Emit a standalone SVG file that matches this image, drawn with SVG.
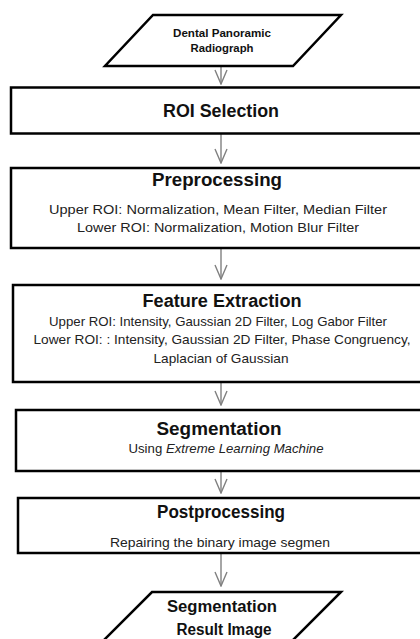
<svg xmlns="http://www.w3.org/2000/svg" width="420" height="639" viewBox="0 0 420 639">
<style>
.box{fill:#fff;stroke:#000;stroke-width:2.5}
.t{font-family:"Liberation Sans",Arial,sans-serif;fill:#111;text-anchor:middle}
.b{font-weight:bold}
.s{font-size:13.5px;fill:#222}
.c{stroke:#808080;stroke-width:1.4;fill:none}
</style>
<defs>
<marker id="ah" markerUnits="userSpaceOnUse" markerWidth="16" markerHeight="14" viewBox="0 0 16 14" refX="15" refY="7" orient="auto">
<path d="M1,1 L15,7 L1,13" fill="none" stroke="#808080" stroke-width="1.4"/>
</marker>
</defs>
<rect width="420" height="639" fill="#fff"/>
<g id="connectors">
<line class="c" x1="221" y1="66" x2="221" y2="84" marker-end="url(#ah)"/>
<line class="c" x1="221" y1="134" x2="221" y2="163" marker-end="url(#ah)"/>
<line class="c" x1="221" y1="249" x2="221" y2="279" marker-end="url(#ah)"/>
<line class="c" x1="221" y1="382" x2="221" y2="405" marker-end="url(#ah)"/>
<line class="c" x1="221" y1="472" x2="221" y2="493" marker-end="url(#ah)"/>
<line class="c" x1="221" y1="553" x2="221" y2="586" marker-end="url(#ah)"/>
</g>
<g id="input">
<polygon class="box" points="153,15 341,15 293,66 105,66"/>
<text class="t b" x="222" y="37" font-size="11" textLength="98" lengthAdjust="spacingAndGlyphs">Dental Panoramic</text>
<text class="t b" x="222" y="52" font-size="11" textLength="63" lengthAdjust="spacingAndGlyphs">Radiograph</text>
</g>
<g id="roi">
<rect class="box" x="11" y="87.5" width="420" height="46"/>
<text class="t b" x="221" y="117" font-size="19" textLength="116" lengthAdjust="spacingAndGlyphs">ROI Selection</text>
</g>
<g id="preprocessing">
<rect class="box" x="11" y="168" width="420" height="80"/>
<text class="t b" x="217" y="186" font-size="18" textLength="130" lengthAdjust="spacingAndGlyphs">Preprocessing</text>
<text class="t s" x="218" y="214" textLength="338" lengthAdjust="spacingAndGlyphs">Upper ROI: Normalization, Mean Filter, Median Filter</text>
<text class="t s" x="218" y="232" textLength="282" lengthAdjust="spacingAndGlyphs">Lower ROI: Normalization, Motion Blur Filter</text>
</g>
<g id="feature">
<rect class="box" x="13" y="285" width="420" height="97"/>
<text class="t b" x="222" y="307" font-size="18" textLength="159" lengthAdjust="spacingAndGlyphs">Feature Extraction</text>
<text class="t s" x="218" y="326" textLength="338" lengthAdjust="spacingAndGlyphs">Upper ROI: Intensity, Gaussian 2D Filter, Log Gabor Filter</text>
<text class="t s" x="222" y="344" textLength="377" lengthAdjust="spacingAndGlyphs">Lower ROI: : Intensity, Gaussian 2D Filter, Phase Congruency,</text>
<text class="t s" x="221" y="363" textLength="135" lengthAdjust="spacingAndGlyphs">Laplacian of Gaussian</text>
</g>
<g id="segmentation">
<rect class="box" x="16" y="410" width="420" height="61"/>
<text class="t b" x="219" y="435" font-size="18" textLength="125" lengthAdjust="spacingAndGlyphs">Segmentation</text>
<text class="t s" x="226" y="453" textLength="195" lengthAdjust="spacingAndGlyphs">Using <tspan font-style="italic">Extreme Learning Machine</tspan></text>
</g>
<g id="postprocessing">
<rect class="box" x="18" y="498" width="420" height="55"/>
<text class="t b" x="221" y="518" font-size="18" textLength="128" lengthAdjust="spacingAndGlyphs">Postprocessing</text>
<text class="t s" x="220" y="547" textLength="220" lengthAdjust="spacingAndGlyphs">Repairing the binary image segmen</text>
</g>
<g id="output">
<polygon class="box" points="152,592 341,592 288,645 99,645"/>
<text class="t b" x="222" y="612" font-size="16" textLength="110" lengthAdjust="spacingAndGlyphs">Segmentation</text>
<text class="t b" x="224" y="635" font-size="16" textLength="95" lengthAdjust="spacingAndGlyphs">Result Image</text>
</g>
</svg>
